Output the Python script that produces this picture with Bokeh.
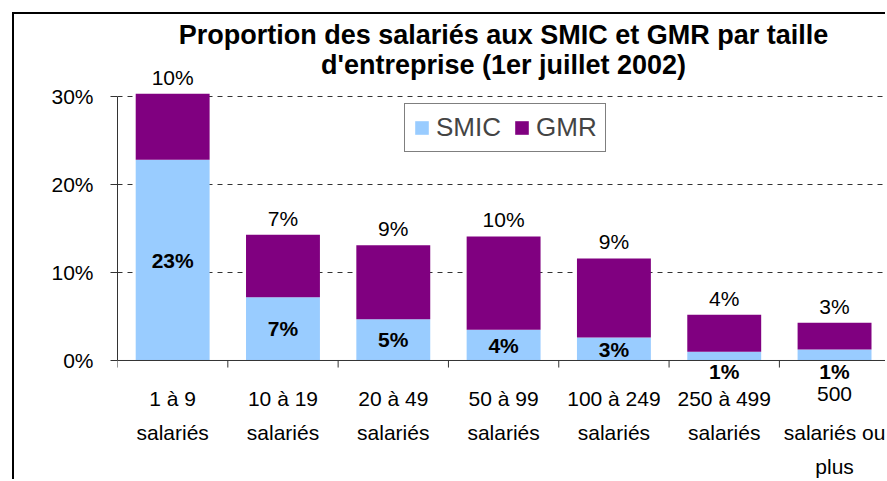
from bokeh.plotting import figure
from bokeh.models import (ColumnDataSource, LabelSet, Label, FixedTicker, Range1d, Span)
from bokeh.core.properties import value
from bokeh.embed import file_html
from bokeh.resources import INLINE

# ---- data ----
categories = ["1 à 9\nsalariés", "10 à 19\nsalariés", "20 à 49\nsalariés",
              "50 à 99\nsalariés", "100 à 249\nsalariés", "250 à 499\nsalariés",
              "500\nsalariés ou\nplus"]
smic = [22.8, 7.2, 4.7, 3.5, 2.6, 1.0, 1.25]
gmr = [7.5, 7.1, 8.4, 10.6, 9.0, 4.2, 3.05]
smic_labels = ["23%", "7%", "5%", "4%", "3%", "1%", "1%"]
gmr_labels = ["10%", "7%", "9%", "10%", "9%", "4%", "3%"]
y_ticks = [0, 10, 20, 30]
y_tick_labels = ["0%", "10%", "20%", "30%"]
title_lines = ["Proportion des salariés aux SMIC et GMR par taille",
               "d'entreprise (1er juillet 2002)"]

FONT = "Liberation Sans"
AXIS_COLOR = "#333333"
n = len(categories)
xs = [i + 0.5 for i in range(n)]
bounds = list(range(n + 1))
totals = [a + b for a, b in zip(smic, gmr)]
smic_y = [v / 2 if v >= 2 else 0 for v in smic]
smic_off = [0 if v >= 2 else -11 for v in smic]

cat_lines = [c.split("\n") for c in categories]
max_lines = max(len(l) for l in cat_lines)
line_cols = {f"cat{k}": [l[k] if k < len(l) else "" for l in cat_lines] for k in range(max_lines)}

src = ColumnDataSource(dict(x=xs, smic=smic, gmr=gmr, total=totals,
                            smic_lab=smic_labels, gmr_lab=gmr_labels,
                            smic_y=smic_y, smic_off=smic_off,
                            zero=[0] * n, **line_cols))

p = figure(width=873, height=467, x_range=Range1d(0, 6.98), y_range=Range1d(-13.75, 39.09),
           output_backend="svg", toolbar_location=None, x_axis_location=None,
           min_border_left=103, min_border_right=0, min_border_top=2, min_border_bottom=0,
           outline_line_color=None)
p.styles = {"margin-left": "12px", "margin-top": "12px",
            "border-left": "2px solid #000000", "border-top": "2px solid #000000"}

p.vbar_stack(["smic", "gmr"], x="x", width=0.67, color=["#99CCFF", "#800080"],
             line_color=None, source=src, legend_label=["SMIC", "GMR"])

# y axis
p.yaxis.ticker = FixedTicker(ticks=y_ticks, minor_ticks=[])
p.yaxis.major_label_overrides = dict(zip(y_ticks, y_tick_labels))
p.yaxis.bounds = (0, 30)
p.yaxis.major_tick_out = 7
p.yaxis.major_tick_in = 0
p.yaxis.minor_tick_line_color = None
p.yaxis.axis_line_color = AXIS_COLOR
p.yaxis.major_tick_line_color = AXIS_COLOR
p.yaxis.major_label_text_font = FONT
p.yaxis.major_label_text_font_size = "21px"
p.yaxis.major_label_text_color = "black"
p.yaxis.major_label_standoff = 17

# category (x) axis drawn at y = 0
p.add_layout(Span(location=0, dimension="width", line_color=AXIS_COLOR, line_width=1))
p.segment(x0=bounds, y0=[0] * len(bounds), x1=bounds, y1=[-0.8] * len(bounds),
          line_color=AXIS_COLOR, line_width=1)
for k in range(max_lines):
    p.add_layout(LabelSet(x="x", y="zero", text=f"cat{k}", source=src, text_align="center",
                          text_baseline="top", y_offset=-27 - 34 * k, text_font=value(FONT),
                          text_font_size="21px", text_color="black"))

# grid
p.xgrid.visible = False
p.ygrid.ticker = FixedTicker(ticks=[t for t in y_ticks if t > 0], minor_ticks=[])
p.ygrid.grid_line_dash = "5 5"
p.ygrid.grid_line_color = AXIS_COLOR
p.ygrid.grid_line_width = 1

# data labels
p.add_layout(LabelSet(x="x", y="total", text="gmr_lab", source=src, text_align="center",
                      text_baseline="bottom", y_offset=5, text_font=value(FONT),
                      text_font_size="21px", text_color="black"))
p.add_layout(LabelSet(x="x", y="smic_y", text="smic_lab", source=src, text_align="center",
                      text_baseline="middle", y_offset="smic_off", text_font=value(FONT),
                      text_font_size="21px", text_font_style="bold", text_color="black"))

# title
for i, line in enumerate(title_lines):
    p.add_layout(Label(x=487, y=18 + 30 * i, x_units="canvas", y_units="canvas", text=line,
                       text_align="center", text_baseline="middle", text_font=FONT,
                       text_font_size="27px", text_font_style="bold", text_color="black"))

# legend
lg = p.legend[0]
lg.orientation = "horizontal"
lg.location = (287, 329)
lg.label_text_font = FONT
lg.label_text_font_size = "26px"
lg.glyph_width = 17
lg.glyph_height = 17
lg.label_standoff = 6
lg.spacing = 12
lg.padding = 8
lg.margin = 0
lg.border_line_color = "black"
lg.border_line_width = 1.5
lg.background_fill_alpha = 1

open("out.html", "w").write(file_html(p, INLINE))
